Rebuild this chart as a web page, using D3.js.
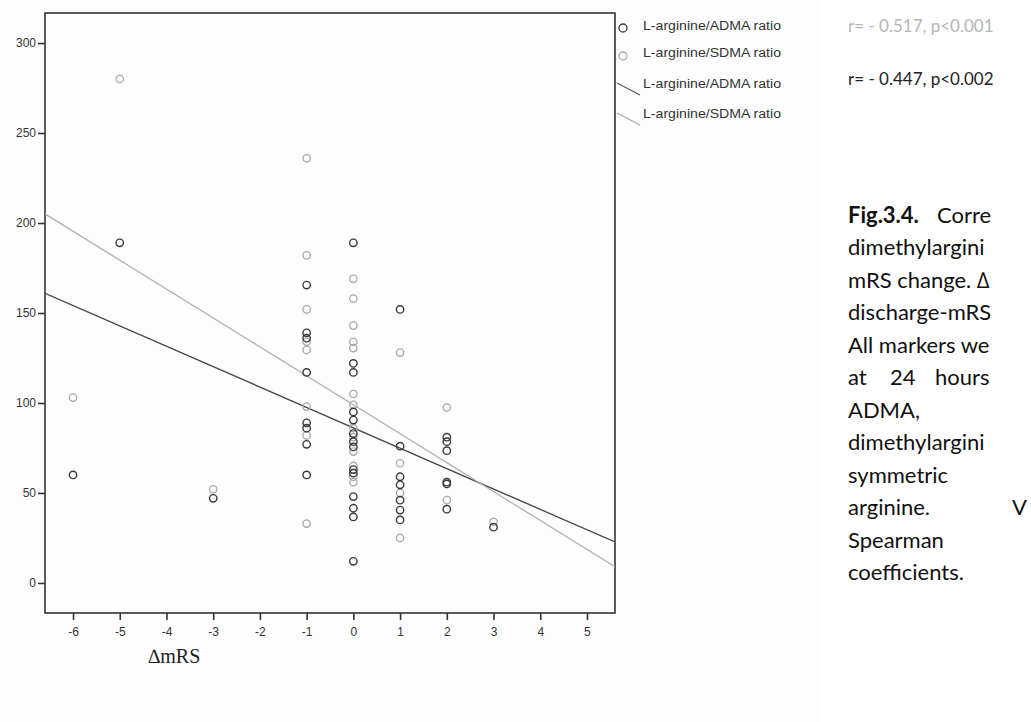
<!DOCTYPE html>
<html><head><meta charset="utf-8">
<script src="https://cdn.jsdelivr.net/npm/d3@7"></script>
<style>body{margin:0;background:#fff;} svg{display:block;}</style>
</head><body>
<svg id="chart" width="1031" height="722"></svg>
<script>
// ---- data ----
const xTicks = [-6,-5,-4,-3,-2,-1,0,1,2,3,4,5];
const yTicks = [0,50,100,150,200,250,300];
const admaX = [-6,-5,-3,-1,-1,-1,-1,-1,-1,-1,-1,0,0,0,0,0,0,0,0,0,0,0,0,0,0,1,1,1,1,1,1,1,2,2,2,2,2,2,3];
const admaY = [60,189,47,165.5,139,136,117,89,86,77,60,189,122,117,95,90.5,83,78.5,75.6,63,61,48,41.5,36.7,12,152,76,59,54.5,46,40.5,35,81,78.5,73.5,56,55,41,31];
const sdmaX = [-6,-5,-3,-1,-1,-1,-1,-1,-1,-1,-1,0,0,0,0,0,0,0,0,0,0,0,0,0,1,1,1,1,2,2,3];
const sdmaY = [103,280,52,236,182,152,134,129.5,98,82,33,169,158,143,134,130.5,105,99,86,81,73,65,59,56,128,66.5,50,25,97.5,46,34];
const fitIntercept = [86.2, 99];      // ADMA, SDMA
const fitSlope = [-11.33, -16.07];
const legendLabels = ["L-arginine/ADMA ratio","L-arginine/SDMA ratio","L-arginine/ADMA ratio","L-arginine/SDMA ratio"];
const corrLabels = ["r= - 0.517, p<0.001","r= - 0.447, p<0.002"];
const captionLines = [["Fig.3.4.","Corre"],["dimethylargini"],["mRS change. \u2206"],["discharge-mRS"],["All markers we"],["at","24","hours"],["ADMA,"],["dimethylargini"],["symmetric"],["arginine.","V"],["Spearman"],["coefficients."]];
const xTitle = "\u2206mRS";

// ---- drawing ----
const svg = d3.select("#chart");
const L = 45, R = 615, T = 13, B = 613;
const x = d3.scaleLinear().domain([-6.6, 5.6]).range([L, R]);
const y = d3.scaleLinear().domain([-16.7, 316.7]).range([B, T]);
const darkC = "#3a3a3a", grayC = "#a8a8a8";

svg.append("rect").attr("x",0).attr("y",0).attr("width",820).attr("height",722).attr("fill","#fdfdfd");

// axes
const fmt = d => String(d);
const xa = svg.append("g").attr("transform",`translate(0,${B})`)
  .call(d3.axisBottom(x).tickValues(xTicks).tickSize(7).tickSizeOuter(0).tickFormat(fmt));
const ya = svg.append("g").attr("transform",`translate(${L},0)`)
  .call(d3.axisLeft(y).tickValues(yTicks).tickSize(7).tickSizeOuter(0).tickFormat(fmt));
[xa,ya].forEach(a=>{
  a.select(".domain").remove();
  a.selectAll("line").attr("stroke","#333").attr("stroke-width",1.6);
  a.selectAll("text").attr("fill","#333").style("font-family","Liberation Sans, Arial, sans-serif").style("font-size","12px");
});
xa.selectAll("text").attr("dy","1.1em");
ya.selectAll("text").attr("x",-9);

// frame
svg.append("rect").attr("x",L).attr("y",T).attr("width",R-L).attr("height",B-T)
  .attr("fill","none").attr("stroke","#333").attr("stroke-width",1.6);

svg.append("clipPath").attr("id","pc").append("rect").attr("x",L).attr("y",T).attr("width",R-L).attr("height",B-T);
const plot = svg.append("g").attr("clip-path","url(#pc)");

// fit lines
const xd = x.domain();
[0,1].forEach(i=>{
  plot.append("line")
    .attr("x1",x(xd[0])).attr("y1",y(fitIntercept[i]+fitSlope[i]*xd[0]))
    .attr("x2",x(xd[1])).attr("y2",y(fitIntercept[i]+fitSlope[i]*xd[1]))
    .attr("stroke", i===0 ? "#444" : "#b0b0b0").attr("stroke-width",1.3);
});

// points
plot.selectAll("circle.s").data(sdmaX.map((d,i)=>[d,sdmaY[i]])).join("circle")
  .attr("class","s").attr("cx",d=>x(d[0])).attr("cy",d=>y(d[1])).attr("r",3.7)
  .attr("fill","none").attr("stroke",grayC).attr("stroke-width",1.3);
plot.selectAll("circle.a").data(admaX.map((d,i)=>[d,admaY[i]])).join("circle")
  .attr("class","a").attr("cx",d=>x(d[0])).attr("cy",d=>y(d[1])).attr("r",3.7)
  .attr("fill","none").attr("stroke",darkC).attr("stroke-width",1.4);

// legend
const lg = svg.append("g").style("font-family","Liberation Sans, Arial, sans-serif").style("font-size","12px").attr("fill","#333");
const ly = [26,53,84,114];
lg.append("circle").attr("cx",623).attr("cy",ly[0]+2).attr("r",4).attr("fill","none").attr("stroke",darkC).attr("stroke-width",1.3);
lg.append("circle").attr("cx",623).attr("cy",ly[1]+3).attr("r",4).attr("fill","none").attr("stroke",grayC).attr("stroke-width",1.3);
lg.append("line").attr("x1",617).attr("y1",ly[2]-1).attr("x2",640).attr("y2",ly[2]+11).attr("stroke","#555").attr("stroke-width",1.1);
lg.append("line").attr("x1",617).attr("y1",ly[3]-1).attr("x2",640).attr("y2",ly[3]+11).attr("stroke","#aaa").attr("stroke-width",1.1);
legendLabels.forEach((t,i)=>{
  lg.append("text").attr("x",643).attr("y",ly[i]).attr("dy","0.35em").attr("textLength",138).attr("lengthAdjust","spacingAndGlyphs").text(t);
});

// correlation labels
const cf = "Lato, Open Sans, sans-serif";
corrLabels.forEach((t,i)=>{
  svg.append("text").attr("x",848).attr("y",[26,79][i]).attr("dy","0.35em")
    .style("font-family",cf).style("font-size","17px").attr("fill", i===0 ? "#b5b5b5" : "#222").text(t);
});

// caption
captionLines.forEach((words,i)=>{
  const t = svg.append("text").attr("y",215+i*32.5).attr("dy","0.35em")
    .style("font-family",cf).style("font-size","22px").attr("fill","#111");
  let xs;
  if (words.length===1) xs=[848];
  else if (words[0]==="Fig.3.4.") xs=[848,937];
  else if (words[0]==="at") xs=[848,890,935];
  else xs=[848,1012];
  words.forEach((w,j)=>{
    t.append("tspan").attr("x",xs[j]).style("font-weight", (i===0&&j===0)?"bold":"normal").text(w);
  });
});

// x title
svg.append("text").attr("x",148).attr("y",656).attr("dy","0.35em")
  .style("font-family","Liberation Serif, Times New Roman, serif").style("font-size","20px").attr("fill","#222").text(xTitle);
</script>
</body></html>
